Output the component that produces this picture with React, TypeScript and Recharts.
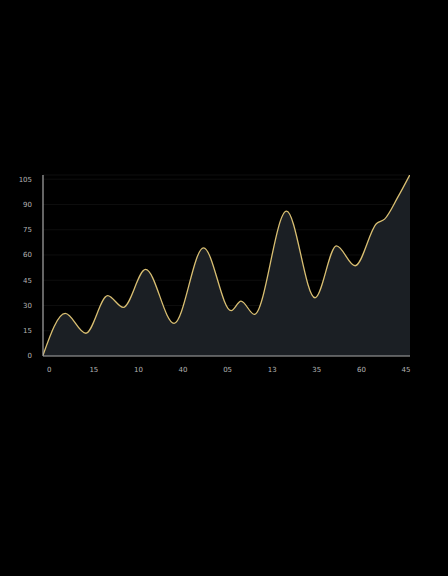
import React from "react";
import { AreaChart, Area, XAxis, YAxis, CartesianGrid } from "recharts";

const xValues = [-0.7, 1.8, 4.1, 6.55, 8.3, 10.8, 14.0, 17.3, 20.4, 21.5, 23.0, 26.6, 29.8, 32.2, 34.3, 36.7, 37.6, 39.1, 40.45];
const yValues = [0.5, 25.3, 13.5, 35.8, 28.9, 51.4, 19.4, 64.2, 26.9, 32.6, 24.7, 86, 34.6, 65.4, 53.6, 78.7, 81.3, 94.5, 107.8];
const xTicks = [0, 5, 10, 15, 20, 25, 30, 35, 40];
const xTickLabels = ["0", "15", "10", "40", "05", "13", "35", "60", "45"];
const yTicks = [0, 15, 30, 45, 60, 75, 90, 105];

const data = xValues.map((x, i) => ({ x, v: yValues[i] }));

export default function App() {
  return (
    <div style={{ position: "fixed", left: 0, top: 0, width: 448, height: 576, background: "#000" }}>
      <AreaChart
        width={448}
        height={576}
        data={data}
        margin={{ top: 175, right: 38, bottom: 200, left: 0 }}
      >
        <CartesianGrid vertical={false} stroke="#0e0e0e" />
        <XAxis
          dataKey="x"
          type="number"
          domain={[-0.7, 40.45]}
          ticks={xTicks}
          tickFormatter={(v: number) => xTickLabels[xTicks.indexOf(v)] ?? String(v)}
          allowDataOverflow
          height={20}
          tickLine={false}
          axisLine={{ stroke: "#a8a8a8", strokeWidth: 1.2 }}
          tick={{ fill: "#b4b4b4", fontSize: 7, fontFamily: "DejaVu Sans" }}
          tickMargin={5}
        />
        <YAxis
          type="number"
          domain={[0, 107.5]}
          ticks={yTicks}
          width={43}
          allowDataOverflow
          tickLine={false}
          axisLine={{ stroke: "#a8a8a8", strokeWidth: 1.2 }}
          tick={{ fill: "#b4b4b4", fontSize: 7, fontFamily: "DejaVu Sans" }}
          tickMargin={5}
        />
        <Area
          type="monotone"
          dataKey="v"
          stroke="#d9bf72"
          strokeWidth={1.3}
          fill="#1b1f24"
          fillOpacity={1}
          isAnimationActive={false}
          dot={false}
          activeDot={false}
        />
      </AreaChart>
    </div>
  );
}
